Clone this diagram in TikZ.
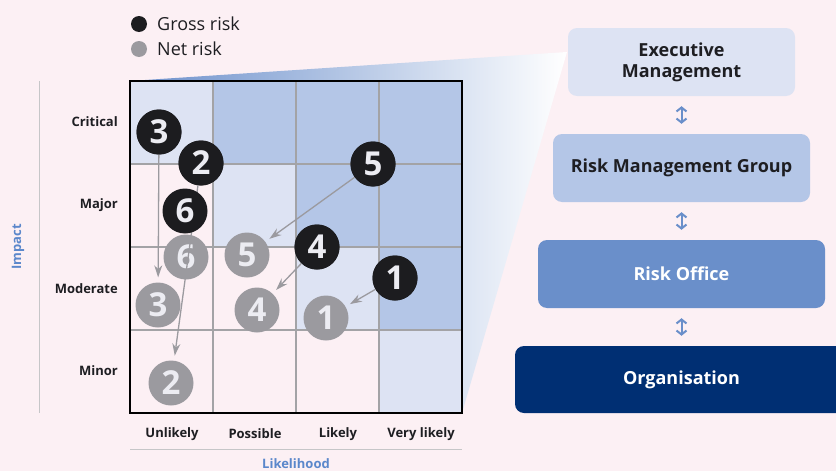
\documentclass[tikz,border=0pt]{standalone}
\usepackage{fontspec}
\setmainfont{Open Sans}
\usetikzlibrary{arrows.meta}
\definecolor{bgpink}{HTML}{FCF0F4}
\definecolor{lightblue}{HTML}{DDE3F3}
\definecolor{midblue}{HTML}{B4C6E7}
\definecolor{ofcblue}{HTML}{6A8FCA}
\definecolor{navy}{HTML}{002F73}
\definecolor{axisblue}{HTML}{5B87CB}
\definecolor{wedgeblue}{HTML}{6B8FCB}
\definecolor{grossc}{HTML}{1C1C1F}
\definecolor{netc}{HTML}{9B9A9F}
\definecolor{txtdark}{HTML}{1E1E22}
\definecolor{gridgray}{HTML}{A3A3A6}
\definecolor{axisgray}{HTML}{C6C6C8}
\definecolor{digitc}{HTML}{ECECF2}
\begin{document}
\begin{tikzpicture}[x=1pt,y=-1pt,
  rowlabel/.style={anchor=east, inner sep=0pt, text=txtdark, font=\fontsize{13}{15}\selectfont\bfseries},
  collabel/.style={inner sep=0pt, text=txtdark, font=\fontsize{13}{15}\selectfont\bfseries},
  axislabel/.style={inner sep=0pt, text=axisblue, font=\fontsize{13}{15}\selectfont\bfseries},
  legendtext/.style={anchor=west, inner sep=0pt, text=txtdark, font=\fontsize{18}{20}\selectfont},
  riskdot/.style={circle, minimum size=45pt, inner sep=0pt, font=\fontsize{33}{33}\selectfont\bfseries, text=digitc},
  gross/.style={riskdot, fill=grossc},
  net/.style={riskdot, fill=netc},
  netarrow/.style={draw=netc, line width=1.3pt, -{Stealth[length=12pt,width=8pt]}, shorten >=5pt},
  orgbox/.style={rounded corners=9pt, minimum height=68pt, inner sep=0pt, font=\fontsize{18}{21}\selectfont\bfseries, align=center},
  linkarrow/.style={draw=ofcblue, line width=2pt, {Straight Barb[length=4pt,width=10pt]}-{Straight Barb[length=4pt,width=10pt]}, shorten <=10pt, shorten >=10pt}
]
\fill[bgpink] (0,0) rectangle (836,471);
\useasboundingbox (0,0) rectangle (836,471);
\clip (0,0) rectangle (836,471);

% wedge
\shade[left color=wedgeblue, right color=white] (130,81) -- (567,52) -- (462,413) -- cycle;

% cells
\fill[bgpink] (130,81) rectangle (462,413);
\fill[lightblue] (130,81) rectangle (213,164);
\fill[lightblue] (213,164) rectangle (296,247);
\fill[lightblue] (296,247) rectangle (379,330);
\fill[lightblue] (379,330) rectangle (462,413);
\fill[midblue] (213,81) rectangle (462,164);
\fill[midblue] (296,164) rectangle (462,247);
\fill[midblue] (379,247) rectangle (462,330);

% grid
\draw[gridgray, line width=1.2pt]
  (213,81) -- (213,413) (296,81) -- (296,413) (379,81) -- (379,413)
  (130,164) -- (462,164) (130,247) -- (462,247) (130,330) -- (462,330);
\draw[black, line width=1.3pt] (130,81) rectangle (462,413);

% axes
\draw[axisgray, line width=1pt] (39,81) -- (39,413);
\draw[axisgray, line width=1pt] (130,449) -- (462,449);
\node[axislabel, rotate=90] (impact) at (18,247) {Impact};
\node[axislabel] (likelihood) at (296,464) {Likelihood};

\node[rowlabel] (critical) at (118,122) {Critical};
\node[rowlabel] (major) at (118,205) {Major};
\node[rowlabel] (moderate) at (118,289) {Moderate};
\node[rowlabel] (minor) at (118,371) {Minor};

\node[collabel] (unlikely) at (172,434) {Unlikely};
\node[collabel] (possible) at (255,434) {Possible};
\node[collabel] (likely) at (338,434) {Likely};
\node[collabel] (verylikely) at (421,434) {Very likely};

% legend
\node[circle, fill=grossc, minimum size=16pt, inner sep=0pt] (lgross) at (139,24) {};
\node[circle, fill=netc, minimum size=16pt, inner sep=0pt] (lnet) at (139,49) {};
\node[legendtext] (tgross) at (157,24) {Gross risk};
\node[legendtext] (tnet) at (157,49) {Net risk};

% net risks
\node[net] (n1) at (326,318) {1};
\node[net] (n2) at (171,383) {2};
\node[net] (n3) at (158,305) {3};
\node[net] (n4) at (257,310) {4};
\node[net] (n5) at (247,255) {5};
\node[net] (n6) at (186,257) {6};

% gross risks
\node[gross] (g1) at (395,278) {1};
\node[gross] (g2) at (201,163) {2};
\node[gross] (g3) at (159,132) {3};
\node[gross] (g4) at (317,247) {4};
\node[gross] (g5) at (373,164) {5};

\draw[netarrow] (g1) -- (n1);
\draw[netarrow] (g2) -- (n2);
\draw[netarrow] (g3) -- (n3);
\draw[netarrow] (g4) -- (n4);
\draw[netarrow] (g5) -- (n5);

% gross risks on top of arrows
\node[gross] at (g1) {1};
\node[gross] at (g2) {2};
\node[gross] at (g3) {3};
\node[gross] at (g4) {4};
\node[gross] at (g5) {5};
\node[gross] (g6) at (185,211) {6};

% organisation boxes
\node[orgbox, fill=lightblue, text=txtdark, minimum width=227pt] (exec) at (681.5,62) {Executive\\Management};
\node[orgbox, fill=midblue, text=txtdark, minimum width=257pt] (rmg) at (681.5,168) {Risk Management Group};
\node[orgbox, fill=ofcblue, text=white, minimum width=287pt] (office) at (681.5,274) {Risk Office};
\node[orgbox, fill=navy, text=white, minimum width=333pt, minimum height=67pt] (org) at (681.5,379.5) {Organisation};

\draw[linkarrow] (exec) -- (rmg);
\draw[linkarrow] (rmg) -- (office);
\draw[linkarrow] (office) -- (org);
\end{tikzpicture}
\end{document}
